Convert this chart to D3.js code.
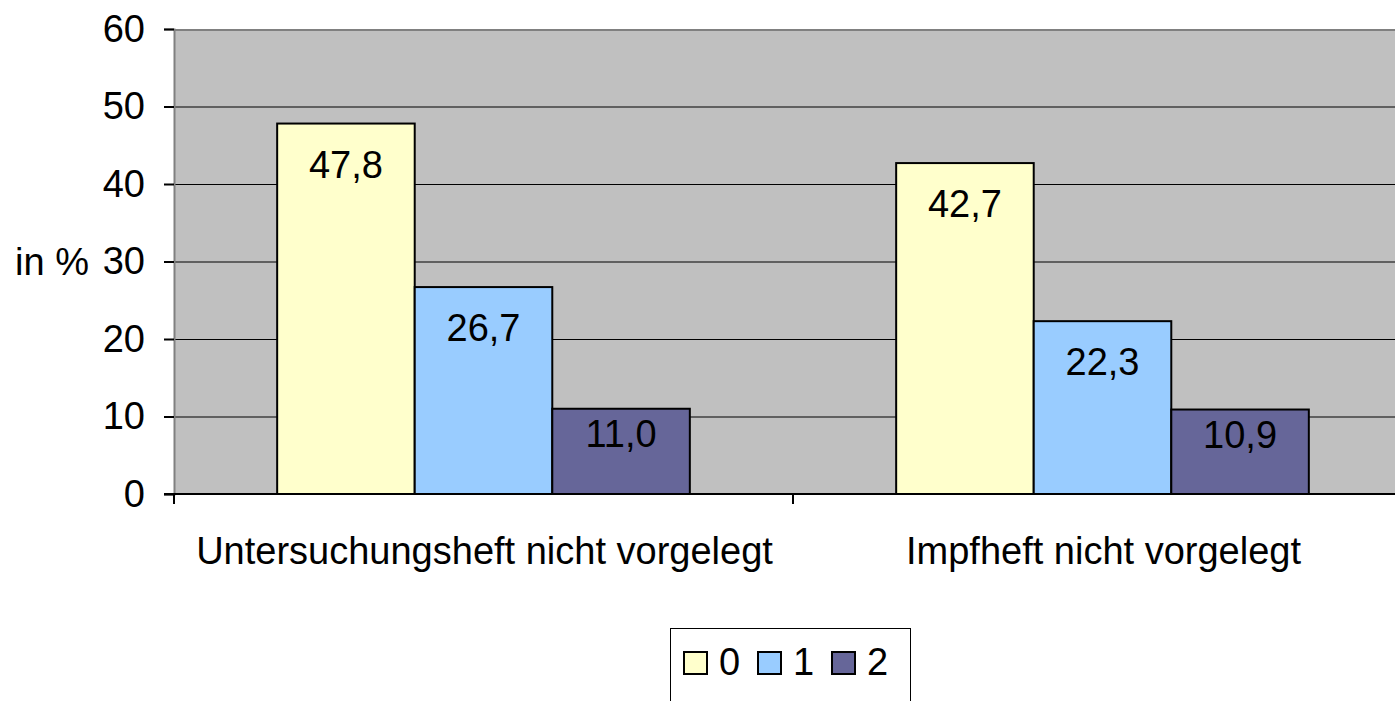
<!DOCTYPE html>
<html>
<head>
<meta charset="utf-8">
<script src="https://cdn.jsdelivr.net/npm/d3@7"></script>
<style>
  body { margin: 0; background: #fff; overflow: hidden; }
  text { font-family: "Liberation Sans", Arial, sans-serif; fill: #000; }
</style>
</head>
<body>
<div class="graph"></div>
<script>
var categories = ['Untersuchungsheft nicht vorgelegt', 'Impfheft nicht vorgelegt'];
var seriesNames = ['0', '1', '2'];
var seriesColors = ['#ffffcc', '#99ccff', '#666699'];
var values = [
  [47.8, 26.7, 11.0],
  [42.7, 22.3, 10.9]
];
var yTicks = [0, 10, 20, 30, 40, 50, 60];

var width = 1395, height = 701;
var plot = { left: 174, top: 29, right: 1412, bottom: 494 };
var fontSize = '38px';

var svg = d3.select('.graph').append('svg')
    .attr('width', width)
    .attr('height', height);

var x = d3.scaleBand()
    .domain(d3.range(categories.length))
    .range([plot.left, plot.right]);

var xInner = d3.scaleBand()
    .domain(d3.range(seriesNames.length))
    .range([0, x.bandwidth()])
    .paddingOuter(0.75)
    .paddingInner(0);

var y = d3.scaleLinear()
    .domain([0, 60])
    .range([plot.bottom, plot.top]);

var fmt = function (v) { return d3.format('.1f')(v).replace('.', ','); };

// plot background
svg.append('rect')
    .attr('x', plot.left).attr('y', plot.top)
    .attr('width', plot.right - plot.left)
    .attr('height', plot.bottom - plot.top)
    .attr('fill', '#c0c0c0');

// gridlines
svg.selectAll('line.grid')
    .data(yTicks.filter(function (d) { return d > 0 && d < 60; }))
    .enter().append('line')
    .attr('x1', plot.left).attr('x2', plot.right)
    .attr('y1', function (d) { return y(d) + 0.5; })
    .attr('y2', function (d) { return y(d) + 0.5; })
    .attr('stroke', '#000').attr('stroke-width', 1);

// top border
svg.append('line')
    .attr('x1', plot.left).attr('x2', plot.right)
    .attr('y1', plot.top + 1).attr('y2', plot.top + 1)
    .attr('stroke', '#808080').attr('stroke-width', 2);

// bars
var groups = svg.selectAll('g.cat')
    .data(values)
    .enter().append('g')
    .attr('transform', function (d, i) { return 'translate(' + x(i) + ',0)'; });

groups.selectAll('rect')
    .data(function (d) { return d; })
    .enter().append('rect')
    .attr('x', function (d, j) { return xInner(j); })
    .attr('y', function (d) { return y(d); })
    .attr('width', xInner.bandwidth())
    .attr('height', function (d) { return y(0) - y(d); })
    .attr('fill', function (d, j) { return seriesColors[j]; })
    .attr('stroke', '#000').attr('stroke-width', 2);

groups.selectAll('text')
    .data(function (d) { return d; })
    .enter().append('text')
    .attr('x', function (d, j) { return xInner(j) + xInner.bandwidth() / 2; })
    .attr('y', function (d) { return Math.min(y(d) + 54, y(d) + (y(0) - y(d)) * 0.45); })
    .attr('text-anchor', 'middle')
    .style('font-size', fontSize)
    .text(fmt);

// y axis
var yAxis = d3.axisLeft(y).tickValues(yTicks).tickSize(10).tickPadding(19);
var gy = svg.append('g')
    .attr('transform', 'translate(' + plot.left + ',0)')
    .call(yAxis);
gy.select('.domain').attr('stroke', '#808080').attr('stroke-width', 2);
gy.selectAll('.tick line').attr('stroke', '#000').attr('stroke-width', 2);
gy.selectAll('.tick text')
    .style('font-size', fontSize)
    .attr('font-family', null);

// x axis
svg.append('line')
    .attr('x1', plot.left - 10).attr('x2', plot.right)
    .attr('y1', plot.bottom).attr('y2', plot.bottom)
    .attr('stroke', '#000').attr('stroke-width', 2);
svg.selectAll('line.xtick')
    .data(d3.range(categories.length + 1))
    .enter().append('line')
    .attr('x1', function (i) { return plot.left + i * x.step(); })
    .attr('x2', function (i) { return plot.left + i * x.step(); })
    .attr('y1', plot.bottom).attr('y2', plot.bottom + 10)
    .attr('stroke', '#000').attr('stroke-width', 2);

svg.selectAll('text.cat')
    .data(categories)
    .enter().append('text')
    .attr('x', function (d, i) { return x(i) + x.bandwidth() / 2 + 1; })
    .attr('y', 564)
    .attr('text-anchor', 'middle')
    .style('font-size', fontSize)
    .text(function (d) { return d; });

// y label
svg.append('text')
    .attr('x', 15).attr('y', 275)
    .style('font-size', fontSize)
    .text('in %');

// legend
var legend = svg.append('g').attr('transform', 'translate(670,628)');
legend.append('rect')
    .attr('x', 0.5).attr('y', 0.5)
    .attr('width', 240).attr('height', 90)
    .attr('fill', '#fff').attr('stroke', '#000').attr('stroke-width', 1);

var item = legend.selectAll('g.item')
    .data(seriesNames)
    .enter().append('g')
    .attr('transform', function (d, i) { return 'translate(' + (14 + i * 74) + ',0)'; });
item.append('rect')
    .attr('x', 0).attr('y', 24)
    .attr('width', 23).attr('height', 22)
    .attr('fill', function (d, i) { return seriesColors[i]; })
    .attr('stroke', '#000').attr('stroke-width', 2);
item.append('text')
    .attr('x', 35).attr('y', 47)
    .style('font-size', fontSize)
    .text(function (d) { return d; });
</script>
</body>
</html>
